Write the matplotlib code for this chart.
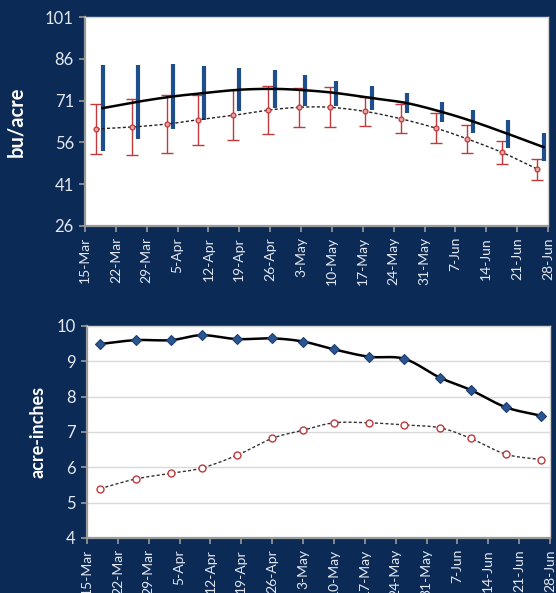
import numpy as np
import pandas as pd
import matplotlib
matplotlib.use("Agg")
import matplotlib.pyplot as plt
import matplotlib.dates as mdates

plt.rcParams['font.family'] = ['Lato', 'DejaVu Sans']

# Planting dates (one point per date)
dates = ['2013-03-18', '2013-03-26', '2013-04-03', '2013-04-10', '2013-04-18',
         '2013-04-26', '2013-05-03', '2013-05-10', '2013-05-18', '2013-05-26',
         '2013-06-03', '2013-06-10', '2013-06-18', '2013-06-26']

# Yield (bu/acre): mean and spread for the two scenarios
yield_a = [68.3, 70.6, 72.5, 73.7, 74.9, 75.2, 74.7, 73.7, 71.9, 70.1, 66.9, 63.5, 59.0, 54.3]
yield_a_err = [15.3, 13.3, 11.7, 9.7, 7.7, 6.8, 5.6, 4.5, 4.3, 3.7, 3.6, 4.2, 5.1, 5.1]
yield_b = [60.8, 61.5, 62.6, 64.1, 65.7, 67.6, 68.6, 68.6, 67.1, 64.5, 61.1, 57.3, 52.4, 46.4]
yield_b_err = [9.0, 10.1, 10.5, 9.0, 9.0, 8.5, 7.0, 7.2, 5.3, 5.2, 5.4, 5.1, 4.2, 3.8]

# Water (acre-inches) for the two scenarios
water_a = [9.49, 9.60, 9.60, 9.74, 9.63, 9.65, 9.56, 9.34, 9.13, 9.07, 8.54, 8.19, 7.70, 7.46]
water_b = [5.40, 5.67, 5.83, 5.98, 6.34, 6.82, 7.05, 7.26, 7.26, 7.20, 7.12, 6.82, 6.37, 6.22]

# Axis ticks
tick_dates = pd.date_range('2013-03-15', '2013-06-28', freq='7D')
tick_labels = [f"{d.day}-{d:%b}" for d in tick_dates]
yield_ticks = [26, 41, 56, 71, 86, 101]
water_ticks = [4, 5, 6, 7, 8, 9, 10]

BG = '#0b2a56'
TXT = '#e3e8f0'
AXIS = '#9a9a9a'
BLUE = '#1f4e8c'
RED = '#c0393b'


def smooth(x, y, n=24):
    """Catmull-Rom curve through the points (smoothed line)."""
    x = np.asarray(x, float)
    y = np.asarray(y, float)
    px = np.concatenate([[2 * x[0] - x[1]], x, [2 * x[-1] - x[-2]]])
    py = np.concatenate([[2 * y[0] - y[1]], y, [2 * y[-1] - y[-2]]])
    xs, ys = [], []
    t = np.linspace(0, 1, n)
    for i in range(1, len(px) - 2):
        for p, out in ((px, xs), (py, ys)):
            p0, p1, p2, p3 = p[i - 1], p[i], p[i + 1], p[i + 2]
            out.append(0.5 * ((2 * p1) + (-p0 + p2) * t
                              + (2 * p0 - 5 * p1 + 4 * p2 - p3) * t ** 2
                              + (-p0 + 3 * p1 - 3 * p2 + p3) * t ** 3))
    return np.concatenate(xs), np.concatenate(ys)


def style_axes(ax, yticks):
    ax.set_facecolor('white')
    x0 = mdates.date2num(tick_dates[0])
    x1 = mdates.date2num(tick_dates[-1])
    ax.set_xlim(x0, x1)
    ax.set_ylim(yticks[0], yticks[-1])
    ax.set_xticks(mdates.date2num(tick_dates))
    ax.set_xticklabels(tick_labels, rotation=90)
    ax.set_yticks(yticks)
    ax.tick_params(axis='both', colors=AXIS, labelcolor=TXT, direction='out',
                   length=4, width=1.2)
    ax.tick_params(axis='x', labelsize=10, pad=4)
    ax.tick_params(axis='y', labelsize=12, pad=4)
    for s in ('left', 'bottom'):
        ax.spines[s].set_color(AXIS)
        ax.spines[s].set_linewidth(1.6)
    for s in ('top', 'right'):
        ax.spines[s].set_color('#d4d4d4')
        ax.spines[s].set_linewidth(1.0)


fig = plt.figure(figsize=(5.56, 5.93), dpi=100, facecolor=BG)

xd = mdates.date2num(pd.to_datetime(dates))

# ---- Yield panel ----
ax1 = fig.add_axes([85 / 556, 1 - 226 / 593, 463 / 556, 209 / 593])
style_axes(ax1, yield_ticks)
xa = xd + 1.0   # slight horizontal shift so the two sets of bars don't overlap
xb = xd - 0.4
ax1.errorbar(xb, yield_b, yerr=yield_b_err, fmt='none', ecolor=RED,
             elinewidth=1.0, capsize=4.0, capthick=1.0, zorder=2)
ax1.errorbar(xa, yield_a, yerr=yield_a_err, fmt='none', ecolor=BLUE,
             elinewidth=3.0, capsize=0, zorder=3)
sx, sy = smooth(xb, yield_b)
ax1.plot(sx, sy, color='#222222', lw=1.0, ls=(0, (2.2, 1.6)), zorder=4)
ax1.plot(xb, yield_b, 'o', ms=3.5, mfc='#e8a3a3', mec=RED, mew=0.9, zorder=5)
sx, sy = smooth(xa, yield_a)
ax1.plot(sx, sy, color='black', lw=1.8, zorder=5)
ax1.set_ylabel('bu/acre', color='white', fontsize=14.5, fontweight='bold')
ax1.yaxis.set_label_coords(-0.127, 0.5)

# ---- Water panel ----
ax2 = fig.add_axes([87 / 556, 1 - 538 / 593, 463 / 556, 212 / 593])
style_axes(ax2, water_ticks)
ax2.grid(axis='y', color='#d9d9d9', lw=1.0)
ax2.set_axisbelow(True)
sx, sy = smooth(xd, water_b)
ax2.plot(sx, sy, color='#333333', lw=1.0, ls=(0, (2.2, 1.6)), zorder=3)
ax2.plot(xd, water_b, 'o', ms=5, mfc='white', mec=RED, mew=1.0, zorder=4)
sx, sy = smooth(xd, water_a)
ax2.plot(sx, sy, color='black', lw=1.8, zorder=3)
ax2.plot(xd, water_a, 'D', ms=5.5, mfc='#2a5590', mec='#1d3e6e', mew=0.8, zorder=4)
ax2.set_ylabel('acre-inches', color='white', fontsize=13, fontweight='bold')
ax2.yaxis.set_label_coords(-0.088, 0.5)

fig.savefig('out.png', dpi=100, facecolor=BG)
